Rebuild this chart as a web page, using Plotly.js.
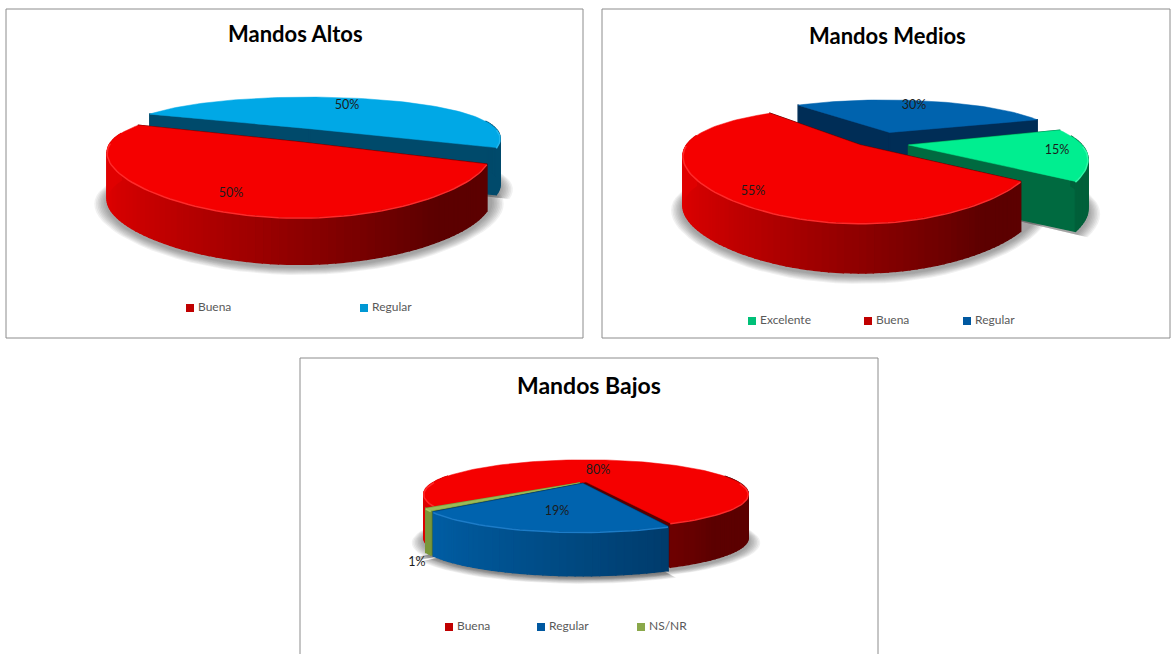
<!DOCTYPE html>
<html>
<head>
<meta charset="utf-8">
<script src="https://cdn.plot.ly/plotly-3.0.1.min.js"></script>
<style>html,body{margin:0;padding:0;background:#fff}#chart{width:1171px;height:654px}</style>
</head>
<body>
<div id="chart"></div>
<script>
// Survey results per management level
const altosCategories = ['Buena', 'Regular'];
const altosValues = [50, 50];
const mediosCategories = ['Excelente', 'Buena', 'Regular'];
const mediosValues = [15, 55, 30];
const bajosCategories = ['Buena', 'Regular', 'NS/NR'];
const bajosValues = [80, 19, 1];

// Colour sets: top face, cut face, side wall light end, side wall dark end, key swatch
const styles = {
  red:   {top: '#f50000', rim: '#ff2a2a', cut: '#5a0000', light: '#e00000', dark: '#5c0000', key: '#c00000'},
  sky:   {top: '#00a8e6', rim: '#20b8f0', cut: '#004a6b', light: '#0090c4', dark: '#004a6b', key: '#0098d4'},
  blue:  {top: '#0063ae', rim: '#1c7cc8', cut: '#002d56', light: '#0066b2', dark: '#003560', key: '#0058a0'},
  green: {top: '#00ee90', rim: '#30f8a8', cut: '#006a40', light: '#007a4a', dark: '#00603a', key: '#00c078'},
  olive: {top: '#9bbb59', rim: '#aac868', cut: '#6b8a2f', light: '#7f9c3d', dark: '#5f7a2a', key: '#8aa84a'}
};

// Panel geometry in page units; each pie is a disc seen in perspective
const panels = [
  {
    title: 'Mandos Altos', titleX: 295, titleY: 33, titleSize: 22,
    box: [6, 583, 9, 338], open: false,
    categories: altosCategories, values: altosValues,
    looks: ['red', 'sky'],
    startAngle: 23, cx: 299, cy: 142, rx: 188, ry: 49, perspX: 0.2, perspY: 0.35, depth: 47,
    shifts: [[0, 0], [0.06, -0.3]], scales: [1, 1.05],
    paintOrder: [1, 0],
    labels: [[231, 194], [347, 106]],
    keyY: 308, keyX: [190, 364]
  },
  {
    title: 'Mandos Medios', titleX: 887, titleY: 35, titleSize: 22,
    box: [602, 1170, 9, 338], open: false,
    categories: mediosCategories, values: mediosValues,
    looks: ['green', 'red', 'blue'],
    startAngle: -19, cx: 860, cy: 145, rx: 173.5, ry: 50.7, perspX: 0.2, perspY: 0.35, depth: 50,
    shifts: [[0.28, 0], [0, 0], [0.18, -0.27]], scales: [1, 1, 1.02],
    paintOrder: [2, 0, 1],
    labels: [[1057, 151], [753, 192], [914, 106]],
    keyY: 321, keyX: [752, 868, 967]
  },
  {
    title: 'Mandos Bajos', titleX: 589, titleY: 385, titleSize: 23,
    box: [300, 878, 358, 654], open: true,
    categories: bajosCategories, values: bajosValues,
    looks: ['red', 'blue', 'olive'],
    startAngle: 140, cx: 586, cy: 482, rx: 152, ry: 30, perspX: 0.35, perspY: 0.35, depth: 44,
    shifts: [[0, 0], [-0.02, 0.05], [-0.04, 0.03]], scales: [1, 1, 1],
    paintOrder: [0, 2, 1],
    labels: [[598, 471], [557, 512], [417, 563]],
    keyY: 627, keyX: [449, 541, 641]
  }
];

const PAGE_W = 1171, PAGE_H = 654;
const FONT = 'Lato, "Open Sans", sans-serif';
const rad = d => d * Math.PI / 180;

const hexToRgb = h => [1, 3, 5].map(i => parseInt(h.slice(i, i + 2), 16));
function mix(a, b, t) {
  const p = hexToRgb(a), q = hexToRgb(b);
  return 'rgb(' + p.map((v, i) => Math.round(v + (q[i] - v) * t)).join(',') + ')';
}

// Disc coordinates (u toward the right, v toward the viewer) to axis coordinates
function project(p, u, v, z) {
  return [
    p.cx + p.rx * u / (1 - p.perspX * v),
    p.cy + p.ry * v / (1 - p.perspY * v) + z * p.depth
  ];
}

const traces = [];
const annotations = [];
const shapes = [];
const layout = {
  width: PAGE_W, height: PAGE_H,
  margin: {l: 0, r: 0, t: 0, b: 0},
  paper_bgcolor: '#ffffff', plot_bgcolor: 'rgba(0,0,0,0)',
  showlegend: false, hovermode: false,
  annotations, shapes
};

function polygon(points, color, xa, ya, width) {
  traces.push({
    type: 'scatter', mode: 'lines', xaxis: xa, yaxis: ya,
    x: points.map(q => q[0]), y: points.map(q => q[1]),
    fill: 'toself', fillcolor: color,
    line: {color, width: width === undefined ? 1.4 : width},
    hoverinfo: 'skip', showlegend: false
  });
}

// One translucent shadow outline around a sector of the base
function shadowOutline(p, from, to, du, dv, grow, xa, ya) {
  const pts = [project(p, du, dv, 1)];
  const steps = Math.max(4, Math.ceil((to - from) / 4));
  for (let k = 0; k <= steps; k++) {
    const a = rad(from + (to - from) * k / steps);
    const q = project(p, du + grow * Math.cos(a), dv + grow * Math.sin(a), 1);
    pts.push([q[0], q[1] + 3]);
  }
  pts.push(pts[0]);
  traces.push({
    type: 'scatter', mode: 'lines', xaxis: xa, yaxis: ya,
    x: pts.map(q => q[0]), y: pts.map(q => q[1]),
    fill: 'toself', fillcolor: 'rgba(60,60,60,0.07)', line: {width: 0},
    hoverinfo: 'skip', showlegend: false
  });
}

panels.forEach((p, idx) => {
  const n = idx + 1;
  const xa = n === 1 ? 'x' : 'x' + n;
  const ya = n === 1 ? 'y' : 'y' + n;
  const [x0, x1, y0, y1] = p.box;
  layout[n === 1 ? 'xaxis' : 'xaxis' + n] = {
    domain: [x0 / PAGE_W, x1 / PAGE_W], range: [x0, x1], visible: false, fixedrange: true, anchor: ya
  };
  layout[n === 1 ? 'yaxis' : 'yaxis' + n] = {
    domain: [1 - y1 / PAGE_H, 1 - y0 / PAGE_H], range: [y1, y0], visible: false, fixedrange: true, anchor: xa
  };

  // Panel frame; the lower panel runs off the page so it has no bottom edge
  const fx = v => v / PAGE_W, fy = v => 1 - v / PAGE_H;
  const framePath = p.open
    ? `M ${fx(x0)} ${fy(y1)} L ${fx(x0)} ${fy(y0)} L ${fx(x1)} ${fy(y0)} L ${fx(x1)} ${fy(y1)}`
    : `M ${fx(x0)} ${fy(y1)} L ${fx(x0)} ${fy(y0)} L ${fx(x1)} ${fy(y0)} L ${fx(x1)} ${fy(y1)} Z`;
  shapes.push({type: 'path', xref: 'paper', yref: 'paper', path: framePath,
    line: {color: '#8c8c8c', width: 1}, layer: 'below'});

  annotations.push({
    xref: xa, yref: ya, x: p.titleX, y: p.titleY, text: p.title, showarrow: false,
    xanchor: 'center', yanchor: 'middle',
    font: {family: FONT, size: p.titleSize, color: '#000000', weight: 700}
  });

  // Turn the values into angular spans, clockwise from the start angle
  const total = p.values.reduce((a, b) => a + b, 0);
  let cursor = p.startAngle;
  const spans = p.values.map(v => {
    const span = [cursor, cursor + v / total * 360];
    cursor = span[1];
    return span;
  });

  // Soft ground shadow under the disc and under each slice pulled out of it
  for (let layer = 8; layer >= 1; layer--) {
    const grow = 1 + layer * 0.008;
    shadowOutline(p, 0, 360, 0, 0, grow, xa, ya);
    spans.forEach((sp, i) => {
      const [du, dv] = p.shifts[i];
      if (du !== 0 || dv !== 0) shadowOutline(p, sp[0], sp[1], du, dv, grow * p.scales[i], xa, ya);
    });
  }

  // Slices, back to front: cut faces, then curved wall, then the top face
  p.paintOrder.forEach(i => {
    const sp = spans[i];
    const st = styles[p.looks[i]];
    const [du, dv] = p.shifts[i];
    const r = p.scales[i];
    const rim = (a, z) => project(p, du + r * Math.cos(a), dv + r * Math.sin(a), z);
    const apexTop = project(p, du, dv, 0), apexBase = project(p, du, dv, 1);

    [sp[0], sp[1]].forEach(d => {
      const a = rad(d);
      polygon([apexTop, rim(a, 0), rim(a, 1), apexBase, apexTop], st.cut, xa, ya);
    });

    const stepDeg = 2;
    const nSeg = Math.max(1, Math.ceil((sp[1] - sp[0]) / stepDeg));
    for (let k = 0; k < nSeg; k++) {
      const a0 = rad(sp[0] + (sp[1] - sp[0]) * k / nSeg);
      const a1 = rad(sp[0] + (sp[1] - sp[0]) * (k + 1) / nSeg);
      const am = (a0 + a1) / 2;
      if (Math.sin(am) < -0.2) continue;
      const shade = Math.min(1, Math.max(0, (Math.cos(am) + 1) / 1.6));
      polygon([rim(a0, 0), rim(a1, 0), rim(a1, 1), rim(a0, 1), rim(a0, 0)],
        mix(st.light, st.dark, shade), xa, ya);
    }

    const top = [apexTop];
    for (let k = 0; k <= nSeg; k++) {
      top.push(rim(rad(sp[0] + (sp[1] - sp[0]) * k / nSeg), 0));
    }
    top.push(apexTop);
    polygon(top, st.top, xa, ya, 0.5);

    // Bevel along the front rim
    const bevel = [];
    for (let k = 0; k <= nSeg; k++) {
      const a = rad(sp[0] + (sp[1] - sp[0]) * k / nSeg);
      bevel.push(Math.sin(a) > 0 ? rim(a, 0.015) : [null, null]);
    }
    traces.push({
      type: 'scatter', mode: 'lines', xaxis: xa, yaxis: ya,
      x: bevel.map(q => q[0]), y: bevel.map(q => q[1]),
      line: {color: st.rim, width: 1.5},
      hoverinfo: 'skip', showlegend: false
    });
  });

  // Value labels
  traces.push({
    type: 'scatter', mode: 'text', xaxis: xa, yaxis: ya,
    x: p.labels.map(q => q[0]), y: p.labels.map(q => q[1]),
    text: p.values.map(v => v + '%'), textposition: 'middle center',
    textfont: {family: FONT, size: 12.5, color: '#1c1c1c'},
    hoverinfo: 'skip', showlegend: false
  });

  // Key below each pie: swatches, then their names
  traces.push({
    type: 'scatter', mode: 'markers', xaxis: xa, yaxis: ya,
    x: p.keyX, y: p.categories.map(() => p.keyY),
    marker: {symbol: 'square', size: 8, color: p.looks.map(l => styles[l].key)},
    hoverinfo: 'skip', showlegend: false
  });
  traces.push({
    type: 'scatter', mode: 'text', xaxis: xa, yaxis: ya,
    x: p.keyX.map(v => v + 8), y: p.categories.map(() => p.keyY),
    text: p.categories, textposition: 'middle right',
    textfont: {family: FONT, size: 12, color: '#595959'},
    hoverinfo: 'skip', showlegend: false
  });
});

Plotly.newPlot('chart', traces, layout, {displayModeBar: false, staticPlot: true});
</script>
</body>
</html>
